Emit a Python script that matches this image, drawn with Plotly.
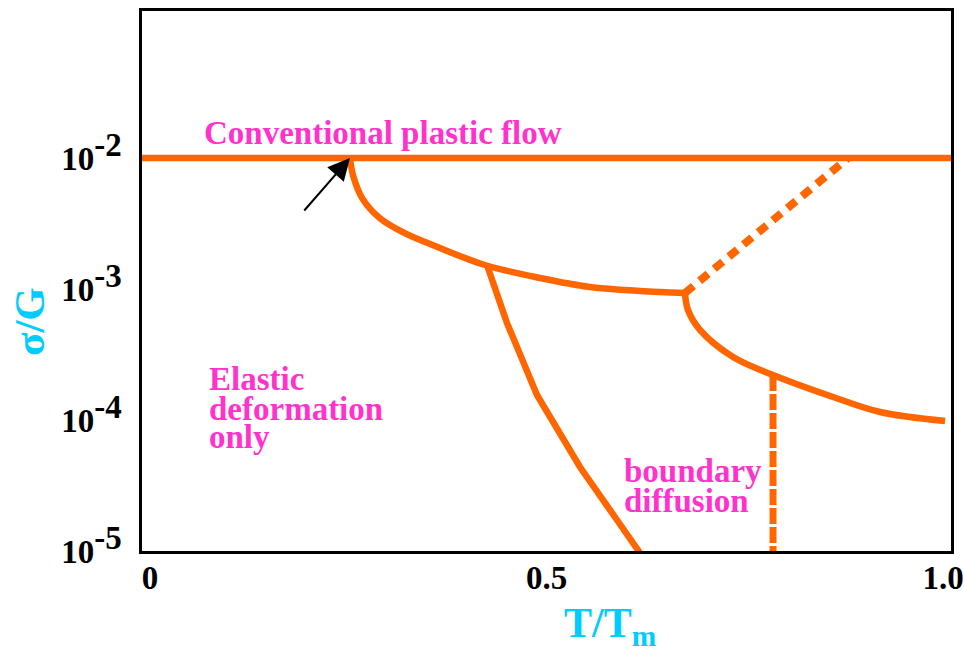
import plotly.graph_objects as go

# ---- data (T/Tm, log10(sigma/G)) ----
flow_T = [-0.01, 1.01]
flow_logs = [-2.0, -2.0]

plastic_boundary_T = [0.2522, 0.2560, 0.2680, 0.2900, 0.3200, 0.3657, 0.4224, 0.4918, 0.5549, 0.6179, 0.6746]
plastic_boundary_logs = [-2.0, -2.1300, -2.3100, -2.4600, -2.5700, -2.6870, -2.8168, -2.9160, -2.9847, -3.0153, -3.0305]

lattice_boundary_T = [0.4250, 0.4502, 0.4880, 0.5422, 0.5889, 0.6179]
lattice_boundary_logs = [-2.8168, -3.2595, -3.8092, -4.3588, -4.7634, -5.0153]

dotted_T = [0.6746, 0.8802]
dotted_logs = [-3.0305, -2.0]

creep_boundary_T = [0.6746, 0.6784, 0.6936, 0.7352, 0.7856, 0.8613, 0.9206, 1.0025]
creep_boundary_logs = [-3.0305, -3.1603, -3.3130, -3.5191, -3.6565, -3.8244, -3.9389, -4.0076]

dashed_T = [0.7856, 0.7856]
dashed_logs = [-3.6565, -5.0]

x_tickvals = [0, 0.5, 1.0]
x_ticktext = ["0", "0.5", "1.0"]
y_exponents = [-1, -2, -3, -4, -5]

arrow_tip = (0.2522, -2.0)

ORANGE = "#FF6600"
MAGENTA = "#FF33CC"
CYAN = "#00CCFF"
FONT = "Liberation Serif"

def pw(vals):
    return [10 ** v for v in vals]

fig = go.Figure()
line_style = dict(color=ORANGE, width=6.5)
spline_style = dict(color=ORANGE, width=6.5, shape="spline", smoothing=1.0)
fig.add_trace(go.Scatter(x=flow_T, y=pw(flow_logs), mode="lines", line=line_style, hoverinfo="skip"))
fig.add_trace(go.Scatter(x=plastic_boundary_T, y=pw(plastic_boundary_logs), mode="lines",
                         line=spline_style, hoverinfo="skip"))
fig.add_trace(go.Scatter(x=lattice_boundary_T, y=pw(lattice_boundary_logs), mode="lines",
                         line=line_style, hoverinfo="skip"))
fig.add_trace(go.Scatter(x=dotted_T, y=pw(dotted_logs), mode="lines",
                         line=dict(color=ORANGE, width=8, dash="11px,8px"), hoverinfo="skip"))
fig.add_trace(go.Scatter(x=creep_boundary_T, y=pw(creep_boundary_logs), mode="lines",
                         line=spline_style, hoverinfo="skip"))
fig.add_trace(go.Scatter(x=dashed_T, y=pw(dashed_logs), mode="lines",
                         line=dict(color=ORANGE, width=7, dash="16px,3px"), hoverinfo="skip"))

ann_font = dict(family=FONT, size=33, color=MAGENTA, weight="bold")
texts = [
    ("Conventional plastic flow", 0.0656, -1.809),
    ("Elastic", 0.0719, -3.687),
    ("deformation", 0.0719, -3.916),
    ("only", 0.0719, -4.130),
    ("boundary", 0.595, -4.389),
    ("diffusion", 0.595, -4.618),
]
for t, x, y in texts:
    fig.add_annotation(x=x, y=y, xref="x", yref="y", text=t, showarrow=False,
                       xanchor="left", yanchor="middle", font=ann_font)

fig.add_annotation(x=arrow_tip[0], y=arrow_tip[1], xref="x", yref="y", ax=-47, ay=54,
                   axref="pixel", ayref="pixel", showarrow=True, arrowhead=2, arrowsize=2.2,
                   arrowwidth=2, arrowcolor="black", text="")

title_font = dict(family=FONT, size=42, color=CYAN, weight="bold")
fig.add_annotation(x=(610 - 142) / 809, y=-(626 - 551) / 540, xref="paper", yref="paper",
                   text="T/T<sub>m</sub>", showarrow=False, xanchor="center", yanchor="middle",
                   font=title_font)
fig.add_annotation(x=-(142 - 29) / 809, y=1 - (322 - 11) / 540, xref="paper", yref="paper",
                   text="σ/G", showarrow=False, textangle=-90, xanchor="center", yanchor="middle",
                   font=dict(family=FONT, size=43, color=CYAN, weight="bold"))

tick_font = dict(family=FONT, size=33, color="black", weight="bold")
fig.update_layout(
    width=964, height=653,
    margin=dict(l=142, r=13, t=11, b=102),
    paper_bgcolor="white", plot_bgcolor="white",
    showlegend=False,
    xaxis=dict(range=[-0.01, 1.01], tickvals=x_tickvals, ticktext=x_ticktext,
               showgrid=False, zeroline=False, showline=True, mirror=True, automargin=False,
               linecolor="black", linewidth=2.5, ticks="", ticklabelstandoff=-4,
               tickfont=tick_font),
    yaxis=dict(type="log", range=[-5, -0.878], automargin=False,
               tickvals=[10 ** e for e in y_exponents],
               ticktext=["10<sup><span style='font-size:33px'>%d</span></sup>" % e for e in y_exponents],
               showgrid=False, zeroline=False, showline=True, mirror=True,
               linecolor="black", linewidth=2.5, ticks="outside", ticklen=11,
               tickcolor="rgba(0,0,0,0)", tickfont=tick_font),
)

fig.write_html("out.html", config={"displayModeBar": False},
               post_script="document.body.style.margin='0';")
